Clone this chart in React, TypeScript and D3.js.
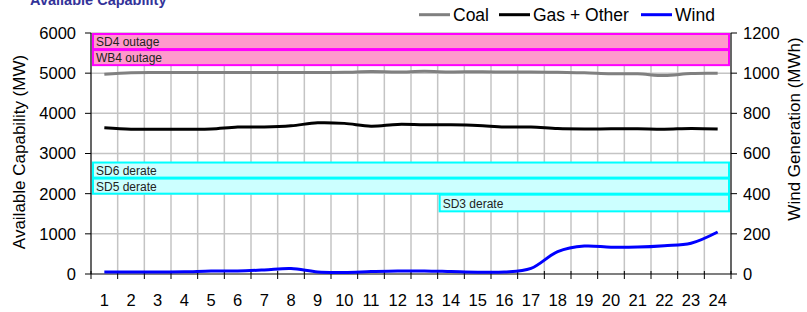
import React from 'react';
import * as d3 from 'd3';

// hourly values
const hours = d3.range(1, 25);
const coal = [4975, 5010, 5015, 5015, 5015, 5015, 5015, 5015, 5015, 5020, 5040, 5030, 5045, 5030, 5035, 5030, 5030, 5020, 5010, 4985, 4985, 4940, 4990, 4995];
const gasOther = [3640, 3605, 3605, 3605, 3610, 3660, 3660, 3690, 3765, 3750, 3680, 3725, 3715, 3715, 3700, 3660, 3660, 3620, 3610, 3615, 3615, 3605, 3625, 3610];
const wind = [10, 10, 10, 11, 15, 15, 20, 27, 10, 8, 12, 15, 15, 12, 9, 10, 28, 111, 139, 133, 134, 141, 153, 209];

// outage / derate bands (MW), start hour boundary
const bandLabels = ['SD4 outage', 'WB4 outage', 'SD6 derate', 'SD5 derate', 'SD3 derate'];
const bandTop = [6000, 5600, 2800, 2400, 2000];
const bandBottom = [5600, 5200, 2400, 2000, 1560];
const bandStart = [0, 0, 0, 0, 13];
const bandKind = ['outage', 'outage', 'derate', 'derate', 'derate'];

const leftTicks = [0, 1000, 2000, 3000, 4000, 5000, 6000];
const rightTicks = [0, 200, 400, 600, 800, 1000, 1200];

const W = 807;
const H = 312;
const left = 91;
const right = 731;
const top = 33;
const bottom = 274;
const font = 'Liberation Sans, Arial, sans-serif';

export default function App() {
  const x = d3.scaleLinear().domain([0, 24]).range([left, right]);
  const y = d3.scaleLinear().domain([0, 6000]).range([bottom, top]);
  const y2 = d3.scaleLinear().domain([0, 1200]).range([bottom, top]);

  const mw = d3.line<number>()
    .x((_, i) => x(hours[i] - 0.5))
    .y(v => y(v))
    .curve(d3.curveCatmullRom.alpha(0.5));
  const mwh = d3.line<number>()
    .x((_, i) => x(hours[i] - 0.5))
    .y(v => y2(v))
    .curve(d3.curveCatmullRom.alpha(0.5));

  const legend = [
    { name: 'Coal', color: '#808080', x0: 419 },
    { name: 'Gas + Other', color: '#000000', x0: 499 },
    { name: 'Wind', color: '#0000ff', x0: 641 },
  ];

  return (
    <svg width={W} height={H} style={{ position: 'absolute', left: 0, top: 0, fontFamily: font }}>
      <text x={30} y={5} fontSize={14.5} fontWeight="bold" fill="#333399">Available Capability</text>

      {/* gridlines */}
      {leftTicks.filter(t => t > 0).map(t => (
        <line key={'h' + t} x1={left} x2={right} y1={y(t)} y2={y(t)} stroke="#c4c4c4" strokeWidth={1.5} />
      ))}
      {d3.range(1, 24).map(h => (
        <line key={'v' + h} x1={x(h)} x2={x(h)} y1={top} y2={bottom} stroke="#c4c4c4" strokeWidth={1.5} />
      ))}

      {/* bands */}
      {bandLabels.map((lab, i) => {
        const outage = bandKind[i] === 'outage';
        const x0 = x(bandStart[i]) + 2;
        const x1 = x(24) - 2;
        const yt = y(bandTop[i]) + 1;
        const yb = y(bandBottom[i]);
        return (
          <g key={lab}>
            <rect x={x0} y={yt} width={x1 - x0} height={yb - yt}
              fill={outage ? '#ff99cc' : '#ccffff'} stroke={outage ? '#ff00ff' : '#00ffff'} strokeWidth={2} />
            <text x={x0 + 3} y={yb - 3} fontSize={12} fill="#222">{lab}</text>
          </g>
        );
      })}

      {/* axes */}
      <line x1={left} x2={left} y1={top} y2={bottom} stroke="#000" strokeWidth={1.2} />
      <line x1={right} x2={right} y1={top} y2={bottom} stroke="#000" strokeWidth={1.2} />
      <line x1={left} x2={right} y1={bottom} y2={bottom} stroke="#000" strokeWidth={1.2} />
      {leftTicks.map(t => (
        <g key={'l' + t}>
          <line x1={left - 6} x2={left} y1={y(t)} y2={y(t)} stroke="#000" />
          <text x={76} y={y(t)} dy="0.36em" textAnchor="end" fontSize={16.5}>{t}</text>
        </g>
      ))}
      {rightTicks.map(t => (
        <g key={'r' + t}>
          <line x1={right} x2={right + 6} y1={y2(t)} y2={y2(t)} stroke="#000" />
          <text x={743} y={y2(t)} dy="0.36em" fontSize={16.5}>{t}</text>
        </g>
      ))}
      {d3.range(0, 25).map(h => (
        <line key={'xt' + h} x1={x(h)} x2={x(h)} y1={bottom - 3} y2={bottom + 5} stroke="#000" />
      ))}
      {hours.map(h => (
        <text key={'xl' + h} x={x(h - 0.5)} y={306} textAnchor="middle" fontSize={16.5}>{h}</text>
      ))}

      <text transform="translate(25,152) rotate(-90)" textAnchor="middle" fontSize={17}>Available Capability (MW)</text>
      <text transform="translate(800,129) rotate(-90)" textAnchor="middle" fontSize={17}>Wind Generation (MWh)</text>

      {/* series */}
      <path d={mw(coal) || ''} fill="none" stroke="#808080" strokeWidth={3} />
      <path d={mw(gasOther) || ''} fill="none" stroke="#000" strokeWidth={3} />
      <path d={mwh(wind) || ''} fill="none" stroke="#0000ff" strokeWidth={3} />

      {/* legend */}
      {legend.map(l => (
        <g key={l.name}>
          <line x1={l.x0} x2={l.x0 + 31} y1={14.7} y2={14.7} stroke={l.color} strokeWidth={3} />
          <text x={l.x0 + 34} y={21} fontSize={17.5}>{l.name}</text>
        </g>
      ))}
    </svg>
  );
}
